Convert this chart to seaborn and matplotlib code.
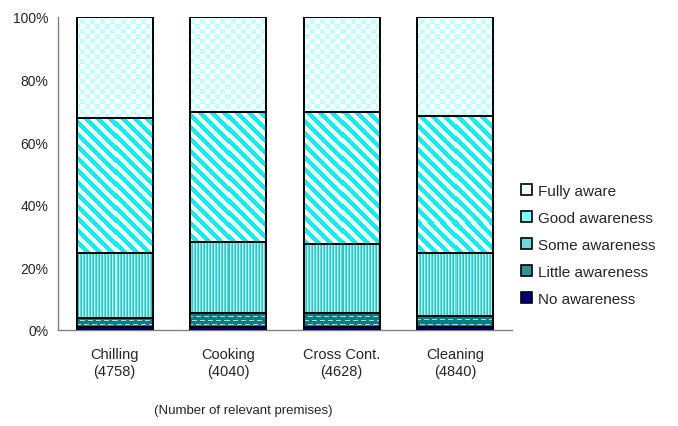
import numpy as np
import pandas as pd
import matplotlib
matplotlib.use("Agg")
import matplotlib.pyplot as plt
from matplotlib.patches import Patch
from matplotlib.colors import to_rgb
import seaborn as sns

# ---- data (percent of relevant premises) ----
categories = ["Chilling", "Cooking", "Cross Cont.", "Cleaning"]
premises = [4758, 4040, 4628, 4840]
levels = ["Fully aware", "Good awareness", "Some awareness", "Little awareness", "No awareness"]
no_awareness = [0.8, 1.0, 1.0, 1.0]
little_awareness = [3.0, 4.3, 4.3, 3.5]
some_awareness = [20.7, 22.9, 22.3, 20.0]
good_awareness = [43.1, 41.4, 42.0, 44.0]
fully_aware = [32.4, 30.4, 30.4, 31.5]

sns.set_theme(style="white")
plt.rcParams["font.family"] = ["Liberation Sans", "DejaVu Sans"]

df = pd.DataFrame({
    "category": categories,
    "No awareness": no_awareness,
    "Little awareness": little_awareness,
    "Some awareness": some_awareness,
    "Good awareness": good_awareness,
    "Fully aware": fully_aware,
})
stack_order = ["No awareness", "Little awareness", "Some awareness", "Good awareness", "Fully aware"]
cum = df[stack_order].cumsum(axis=1)

fig = plt.figure(figsize=(6.78, 4.27), dpi=100)
ax = fig.add_axes([0.0855, 0.225, 0.6695, 0.733])


# ---- fill textures (built in screen pixels) ----
def _rgb(c):
    return np.array(to_rgb(c))


def tex_checker(X, Y):
    m = ((X // 5 + Y // 5) % 2) == 0
    return np.where(m[..., None], _rgb("#C4FFFF"), _rgb("#FFFFFF"))


def tex_diagonal(X, Y):
    m = ((X - Y) % 12) < 6
    return np.where(m[..., None], _rgb("#00F4F4"), _rgb("#FFFFFF"))


def tex_vertical(X, Y):
    pal = np.array([_rgb("#2FC4C4"), _rgb("#B4F8F8"), _rgb("#62D8D8")])
    return pal[X % 3]


def tex_dashes(X, Y):
    row = Y % 4
    shift = ((Y // 4) % 2) * 4
    m = (row == 1) & (((X + shift) % 8) < 5)
    return np.where(m[..., None], _rgb("#A8DCDC"), _rgb("#008080"))


def tex_solid(color):
    def f(X, Y):
        return np.broadcast_to(_rgb(color), X.shape + (3,)).copy()
    return f


textures = {
    "Fully aware": tex_checker,
    "Good awareness": tex_diagonal,
    "Some awareness": tex_vertical,
    "Little awareness": tex_dashes,
    "No awareness": tex_solid("#000080"),
}
legend_colors = {
    "Fully aware": "#EEFFFF",
    "Good awareness": "#80FFFF",
    "Some awareness": "#6CDADA",
    "Little awareness": "#2A9696",
    "No awareness": "#000080",
}

# draw cumulative bars from the tallest down so each segment stays visible
layer_patches = []
for level in reversed(stack_order):
    before = len(ax.patches)
    sns.barplot(x=df["category"], y=cum[level], ax=ax, color="white",
                saturation=1, width=0.67, edgecolor="black", linewidth=1.4)
    layer_patches.append((level, ax.patches[before:]))

ax.set_xlim(-0.5, 3.5)
ax.set_ylim(0, 100)
fig.canvas.draw()
H_fig = fig.bbox.height

for k, (level, patches) in enumerate(layer_patches):
    for p in patches:
        bb = p.get_window_extent()
        w = max(int(round(bb.width)), 1)
        h = max(int(round(bb.height)), 1)
        x0 = int(round(bb.x0))
        top = int(round(H_fig - bb.y1))
        Y, X = np.mgrid[0:h, 0:w]
        img = textures[level](X + x0, Y + top)
        x, y, pw, ph = p.get_x(), p.get_y(), p.get_width(), p.get_height()
        im = ax.imshow(img, extent=(x, x + pw, y, y + ph), origin="upper",
                       aspect="auto", interpolation="nearest", zorder=2 + 2 * k)
        im.set_clip_path(p)
        p.set_facecolor("none")
        p.set_zorder(3 + 2 * k)

ax.set_xlim(-0.5, 3.5)
ax.set_ylim(0, 100)
ax.set_aspect("auto")

# ---- axes styling ----
for s in ["top", "right"]:
    ax.spines[s].set_visible(False)
for s in ["left", "bottom"]:
    ax.spines[s].set_color("#808080")
    ax.spines[s].set_linewidth(1.0)

ax.set_yticks(np.arange(0, 101, 20))
ax.set_yticklabels([f"{v}%" for v in range(0, 101, 20)], fontsize=10)
ax.tick_params(axis="y", direction="out", length=4, width=1, color="#808080", pad=3)

ax.set_xticks(range(len(categories)))
ax.set_xticklabels([f"{c}\n({n})" for c, n in zip(categories, premises)],
                   fontsize=10.5, linespacing=1.3)
ax.set_xticks([0.5, 1.5, 2.5, 3.5], minor=True)
ax.tick_params(axis="x", which="major", length=0, pad=12)
ax.tick_params(axis="x", which="minor", direction="out", length=4, width=1, color="#808080")
ax.set_xlabel("")
ax.set_ylabel("")

fig.text(243 / 678, 1 - 411 / 427, "(Number of relevant premises)", ha="center",
         va="center", fontsize=9.5)

handles = [Patch(facecolor=legend_colors[l], edgecolor="black", linewidth=1.2, label=l)
           for l in levels]
fig.legend(handles=handles, loc="center left", bbox_to_anchor=(0.757, 0.424),
           frameon=False, fontsize=11, handlelength=0.7, handleheight=0.7,
           handletextpad=0.45, labelspacing=0.85, borderpad=0)

fig.savefig("out.png", dpi=100)
